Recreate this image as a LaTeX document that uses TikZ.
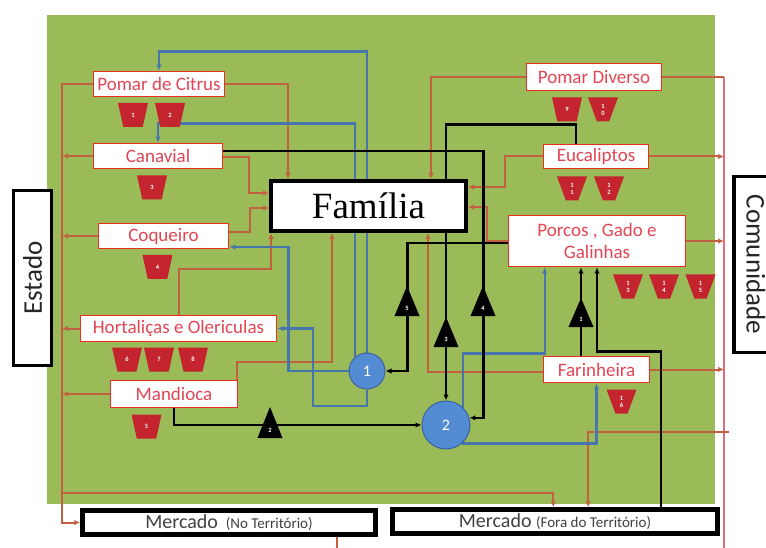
\documentclass[tikz,border=0pt]{standalone}
\usepackage{fontspec}
\newfontfamily\carlito{Carlito}
\newfontfamily\famserif{Liberation Serif}
\usetikzlibrary{arrows.meta,calc,shapes.geometric}
\pgfdeclarelayer{bg}
\pgfdeclarelayer{lines}
\pgfsetlayers{bg,lines,main}
\definecolor{green1}{RGB}{155,187,89}
\definecolor{rline}{RGB}{194,96,64}
\definecolor{bline}{RGB}{70,118,172}
\definecolor{boxred}{RGB}{235,45,35}
\definecolor{txtred}{RGB}{226,70,84}
\definecolor{cupred}{RGB}{196,36,46}
\definecolor{cblue}{RGB}{84,140,212}
\definecolor{cbord}{RGB}{58,98,160}
\definecolor{pinkl}{RGB}{228,110,122}
\newcommand\trimark[5]{%
  \fill[black] (#2-12.5,#4) -- (#2,#3) -- (#2+12.5,#4) -- cycle;
  \node[trilab] (#1) at (#2,#4-8) {#5};}
\begin{document}
\begin{tikzpicture}[x=1pt,y=-1pt,
 arr/.style={-{Latex[length=6pt,width=5.5pt]}},
 rl/.style={draw=rline, line width=2pt},
 bl/.style={draw=bline, line width=2.2pt},
 kl/.style={draw=black, line width=2.2pt},
 prod/.style={draw=boxred, line width=1.8pt, fill=white, text=txtred, font=\carlito\fontsize{19}{22}\selectfont, inner sep=0pt, align=center},
 cupnode/.style={trapezium, shape border rotate=180, trapezium angle=78, trapezium stretches=true, minimum width=30pt, minimum height=24pt, fill=cupred, text=white, inner sep=0pt, font=\carlito\bfseries\fontsize{6.5}{7}\selectfont, align=center},
 trilab/.style={text=white, inner sep=0pt, font=\carlito\bfseries\fontsize{6.5}{6.5}\selectfont},
 circ/.style={circle, fill=cblue, draw=cbord, line width=1pt, inner sep=0pt, text=white, font=\carlito\fontsize{16}{16}\selectfont},
 sidebox/.style={draw=black, line width=3.5pt, fill=white, inner sep=0pt, text=black!85, font=\carlito\fontsize{27}{30}\selectfont},
 mercbox/.style={draw=black, line width=4.5pt, fill=white, inner sep=0pt, text=black!75, font=\carlito\fontsize{20}{22}\selectfont}]
\useasboundingbox (0,0) rectangle (766,548);
\begin{pgfonlayer}{bg}
  \fill[green1] (47,15) rectangle (715,504);
\end{pgfonlayer}

% product nodes
\node[prod, minimum width=131pt, minimum height=25pt] (citrus) at (159,84) {Pomar de Citrus};
\node[prod, minimum width=129pt, minimum height=25pt] (canavial) at (158,156) {Canavial};
\node[prod, minimum width=130pt, minimum height=25pt] (coqueiro) at (163.5,236) {Coqueiro};
\node[prod, minimum width=196pt, minimum height=26pt] (hort) at (178.5,328.5) {Hortaliças e Olericulas};
\node[prod, minimum width=127pt, minimum height=27pt] (mand) at (174,394) {Mandioca};
\node[prod, minimum width=135pt, minimum height=27pt] (pdiv) at (594,77) {Pomar Diverso};
\node[prod, minimum width=105pt, minimum height=24pt] (euc) at (596,156.5) {Eucaliptos};
\node[prod, minimum width=177pt, minimum height=51pt] (porcos) at (597,241) {Porcos , Gado e\\Galinhas};
\node[prod, minimum width=106pt, minimum height=26pt] (farin) at (596.5,369.5) {Farinheira};

\node[draw=black, line width=4pt, fill=white, minimum width=195pt, minimum height=50pt, inner sep=0pt, font=\famserif\fontsize{37}{40}\selectfont] (familia) at (368.5,206) {Família};

% cups
\node[cupnode] (k1) at (133,115) {1};
\node[cupnode] (k2) at (170,115) {2};
\node[cupnode] (k3) at (152,187.5) {3};
\node[cupnode] (k4) at (157.5,267) {4};
\node[cupnode] (k6) at (127,359.5) {6};
\node[cupnode] (k7) at (159,359.5) {7};
\node[cupnode] (k8) at (193,359.5) {8};
\node[cupnode] (k5) at (146.5,426.5) {5};
\node[cupnode] (k9) at (567,109.5) {9};
\node[cupnode] (k10) at (603,109.5) {1\\0};
\node[cupnode] (k11) at (572,188.5) {1\\1};
\node[cupnode] (k12) at (609,188.5) {1\\2};
\node[cupnode] (k13) at (628,286.5) {1\\3};
\node[cupnode] (k14) at (664,286.5) {1\\4};
\node[cupnode] (k15) at (700.5,286.5) {1\\5};
\node[cupnode] (k16) at (621.5,401.5) {1\\6};

% circles
\node[circ, minimum size=36pt] (c1) at (367,371) {1};
\node[circ, minimum size=48pt] (c2) at (446,425) {2};

% side boxes
\node[sidebox, rotate=90, minimum width=175pt, minimum height=38pt] (estado) at (32.5,278) {Estado};
\node[sidebox, rotate=-90, minimum width=176pt, minimum height=44pt] (comun) at (756,264.5) {Comunidade};
\node[mercbox, minimum width=293pt, minimum height=24pt] (merc1) at (229,522.5) {Mercado {\fontsize{15}{16}\selectfont\ (No Território)}};
\node[mercbox, minimum width=325pt, minimum height=24pt] (merc2) at (555,521.5) {Mercado {\fontsize{15}{16}\selectfont (Fora do Território)}};

\coordinate (lbus) at (62,0);
\coordinate (rbus) at (724,0);
\coordinate (rtop) at (724,77);
\coordinate (rbot) at (724,548);
\coordinate (lbot) at (62,493);
\coordinate (rin) at (729,432);

\begin{pgfonlayer}{lines}
% red connectors
\draw[rl,arr] (citrus.west) -- (citrus.west -| lbus) -- (lbus |- merc1.west) -- (merc1.west);
\draw[rl,arr] (canavial.west) -- (canavial.west -| lbus);
\draw[rl,arr] (coqueiro.west) -- (coqueiro.west -| lbus);
\draw[rl,arr] (hort.west) -- (hort.west -| lbus);
\draw[rl,arr] (mand.west) -- (mand.west -| lbus);
\draw[rl,arr] (citrus.east) -| ($(familia.north west)+(19,0)$);
\draw[rl,arr] ($(canavial.east)+(0,1)$) -| ($(familia.west)+(-20,-13)$) -- ($(familia.west)+(0,-13)$);
\draw[rl,arr] ($(coqueiro.east)+(0,-4)$) -| ($(familia.west)+(-19,2)$) -- ($(familia.west)+(0,2)$);
\draw[rl,arr] (hort.north) |- (271,269) -- ($(familia.south west)+(2,0)$);
\draw[rl,arr] ($(mand.north east)+(-1,0)$) |- (332,362) -- ($(familia.south west)+(63,0)$);
\draw[rl,arr] (pdiv.west) -| ($(familia.north west)+(162,0)$);
\draw[rl,arr] ($(farin.west)+(0,2)$) -| ($(familia.south west)+(159,0)$);
\draw[rl,arr] (euc.west) -| ($(familia.east)+(37,-19)$) -- ($(familia.east)+(0,-19)$);
\draw[rl,arr] (porcos.west) -| ($(familia.east)+(19,1)$) -- ($(familia.east)+(0,1)$);
\draw[draw=pinkl, line width=1.6pt] (rtop) -- (rbot);
\draw[rl] (pdiv.east) -- (rtop);
\draw[rl,arr] (euc.east) -- (euc.east -| rbus);
\draw[rl,arr] (porcos.east) -- (porcos.east -| rbus);
\draw[rl,arr] (farin.east) -- (farin.east -| rbus);
\draw[rl,arr] (rin) -| ($(merc2.north west)+(198,0)$);
\draw[rl,arr] (lbot) -| ($(merc2.north west)+(163,0)$);
\draw[rl] ($(merc1.south west)+(257,0)$) -- ++(0,12);
% blue connectors
\draw[bl,arr] (c1.north) -- ++(0,-301) -| (citrus.north);
\draw[bl,arr] (c1.132) |- ($(canavial.north)+(0,-19)$) -- (canavial.north);
\draw[bl,arr] (c1.west) -| ($(coqueiro.east)+(59,11)$) -- ($(coqueiro.east)+(0,11)$);
\draw[bl,arr] (c1.south) |- (313,406) |- (hort.east);
\draw[bl,arr] (c2.45) |- ($(porcos.south west)+(37,86)$) -- ($(porcos.south west)+(37,0)$);
\draw[bl,arr] (c2.-49) -| (farin.south);
% black connectors
\draw[kl,arr] (mand.south) |- (c2.west);
\draw[kl,arr] ($(canavial.east)+(0,-5)$) -| ($(c2.17)+(14,0)$) -- (c2.17);
\draw[kl,arr] ($(euc.north)+(-20,0)$) |- ($(c2.north)+(0,-276)$) -- (c2.north);
\draw[kl,arr] ($(porcos.west)+(0,2)$) -| ($(c1.east)+(22,0)$) -- (c1.east);
\draw[kl,arr] ($(farin.north)+(-15.5,0)$) -- ($(porcos.south)+(-16,0)$);
\draw[kl,arr] ($(merc2.north west)+(271,0)$) |- ($(porcos.south)+(0,84)$) -- (porcos.south);
\end{pgfonlayer}

% triangle markers
\trimark{t1}{581}{298}{327}{1}
\trimark{t2}{270}{407}{438}{2}
\trimark{t3}{446}{317}{347}{3}
\trimark{t4}{483}{286}{316}{4}
\trimark{t5}{407}{286}{316}{5}
\end{tikzpicture}
\end{document}
